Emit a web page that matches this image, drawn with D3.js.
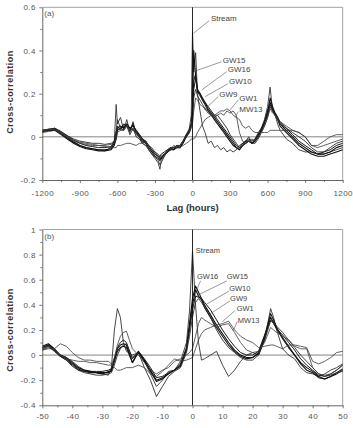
<!DOCTYPE html>
<html>
<head>
<meta charset="utf-8">
<script src="https://cdn.jsdelivr.net/npm/d3@7"></script>
<style>
  body { margin: 0; background: #fff; }
  svg { display: block; }
</style>
</head>
<body>
<div id="chart"></div>
<script>
// ---- panel (a): hourly lags ----
const lagA = [-1200,-1150,-1100,-1050,-1000,-950,-900,-850,-800,-750,-700,-650,
  -625,-610,-600,-575,-550,-525,-500,-475,-450,-425,-400,-375,-350,-325,-300,-275,-260,-250,-225,-200,-175,-150,-125,-100,-75,-50,-25,-10,
  0,10,25,40,60,80,100,125,150,175,200,225,250,275,300,325,350,375,400,425,450,475,500,525,550,575,600,620,640,660,680,700,
  750,800,850,900,950,1000,1050,1100,1150,1200];

const streamA = [0.025,0.03,0.04,0.02,0.0,-0.02,-0.04,-0.05,-0.055,-0.06,-0.065,-0.05,
  -0.02,0.15,0.06,0.09,0.03,0.08,0.02,0.07,0.01,0.0,-0.03,-0.02,-0.06,-0.08,-0.1,-0.12,-0.15,-0.11,-0.09,-0.06,-0.06,-0.04,-0.05,-0.04,-0.02,0.01,0.04,0.1,
  0.49,0.3,0.39,0.2,0.12,0.05,0.02,-0.03,-0.02,-0.05,-0.04,-0.06,-0.05,-0.07,-0.06,-0.07,-0.06,-0.04,-0.03,-0.02,0.0,-0.03,-0.01,0.02,0.04,0.08,0.14,0.23,0.12,0.1,0.06,0.03,
  -0.01,-0.03,-0.06,-0.07,-0.07,-0.08,-0.08,-0.07,-0.06,-0.05];
const gw15A = [0.03,0.035,0.035,0.015,-0.005,-0.025,-0.04,-0.05,-0.055,-0.06,-0.06,-0.055,
  -0.03,0.0,0.04,0.05,0.04,0.06,0.04,0.05,0.03,0.01,-0.01,-0.02,-0.04,-0.06,-0.08,-0.09,-0.1,-0.1,-0.08,-0.07,-0.05,-0.06,-0.04,-0.05,-0.02,0.0,0.03,0.06,
  0.15,0.4,0.28,0.22,0.2,0.18,0.16,0.13,0.11,0.09,0.07,0.05,0.03,0.01,-0.01,-0.03,-0.05,-0.06,-0.04,-0.03,-0.02,-0.03,-0.02,0.0,0.03,0.06,0.11,0.18,0.14,0.11,0.09,0.06,
  0.03,0.0,-0.03,-0.05,-0.07,-0.08,-0.08,-0.07,-0.05,-0.04];
const gw16A = [0.025,0.03,0.03,0.01,-0.01,-0.03,-0.045,-0.055,-0.06,-0.065,-0.065,-0.06,
  -0.04,-0.01,0.03,0.04,0.05,0.05,0.03,0.06,0.02,0.0,-0.02,-0.03,-0.05,-0.07,-0.09,-0.1,-0.11,-0.1,-0.08,-0.07,-0.06,-0.06,-0.05,-0.05,-0.03,0.0,0.02,0.05,
  0.1,0.26,0.29,0.21,0.2,0.17,0.15,0.12,0.1,0.08,0.06,0.04,0.02,0.0,-0.02,-0.04,-0.05,-0.06,-0.04,-0.02,-0.02,-0.03,-0.02,0.01,0.03,0.07,0.12,0.16,0.13,0.1,0.08,0.05,
  0.02,-0.01,-0.04,-0.06,-0.08,-0.09,-0.09,-0.08,-0.07,-0.06];
const gw10A = [0.03,0.035,0.04,0.025,0.005,-0.015,-0.03,-0.04,-0.045,-0.05,-0.05,-0.045,
  -0.02,0.02,0.05,0.03,0.06,0.05,0.04,0.03,0.02,0.01,-0.01,-0.03,-0.05,-0.06,-0.07,-0.09,-0.09,-0.08,-0.07,-0.06,-0.05,-0.05,-0.04,-0.04,-0.02,0.01,0.03,0.06,
  0.1,0.22,0.27,0.21,0.19,0.17,0.16,0.14,0.12,0.1,0.08,0.06,0.04,0.02,0.0,-0.02,-0.04,-0.05,-0.03,-0.02,-0.01,-0.02,-0.01,0.01,0.04,0.07,0.1,0.15,0.12,0.11,0.09,0.07,
  0.04,0.01,-0.02,-0.04,-0.06,-0.08,-0.07,-0.06,-0.04,-0.03];
const gw9A = [0.02,0.025,0.03,0.02,0.005,-0.01,-0.02,-0.025,-0.03,-0.03,-0.035,-0.03,
  -0.02,0.03,0.08,0.04,0.03,0.05,0.01,0.04,0.0,-0.01,-0.03,-0.04,-0.06,-0.08,-0.09,-0.11,-0.13,-0.12,-0.09,-0.07,-0.06,-0.05,-0.05,-0.04,-0.02,0.01,0.03,0.05,
  0.08,0.18,0.22,0.19,0.17,0.15,0.13,0.11,0.1,0.09,0.1,0.08,0.06,0.04,0.01,-0.01,-0.03,-0.05,-0.04,-0.03,-0.02,-0.03,-0.03,-0.01,0.02,0.05,0.09,0.14,0.12,0.1,0.08,0.06,
  0.04,0.02,0.0,-0.02,-0.05,-0.07,-0.07,-0.05,-0.03,-0.02];
const gw1A = [0.03,0.03,0.035,0.02,0.0,-0.02,-0.03,-0.035,-0.04,-0.04,-0.04,-0.035,
  -0.03,-0.01,0.02,0.03,0.03,0.05,0.03,0.04,0.02,0.0,-0.02,-0.03,-0.04,-0.05,-0.07,-0.08,-0.09,-0.09,-0.08,-0.06,-0.05,-0.05,-0.04,-0.04,-0.02,0.0,0.02,0.04,
  0.06,0.12,0.18,0.17,0.15,0.14,0.13,0.12,0.11,0.1,0.1,0.11,0.1,0.12,0.11,0.12,0.1,0.02,-0.02,-0.03,-0.02,-0.01,-0.02,0.0,0.02,0.05,0.09,0.13,0.11,0.1,0.08,0.07,
  0.05,0.03,0.02,0.0,-0.04,-0.05,-0.04,-0.03,-0.02,-0.01];
const mw13A = [0.03,0.035,0.035,0.02,0.0,-0.015,-0.025,-0.03,-0.035,-0.04,-0.045,-0.05,
  -0.05,-0.05,-0.04,-0.04,-0.035,-0.03,-0.03,-0.035,-0.04,-0.03,-0.03,-0.04,-0.05,-0.06,-0.08,-0.09,-0.1,-0.09,-0.08,-0.07,-0.06,-0.05,-0.05,-0.05,-0.04,-0.03,-0.02,-0.01,
  -0.01,-0.01,0.0,0.02,0.04,0.06,0.08,0.09,0.1,0.1,0.11,0.12,0.12,0.13,0.12,0.1,0.09,0.08,0.05,0.04,0.05,0.03,0.02,0.02,0.02,0.02,0.02,0.03,0.03,0.03,0.03,0.03,
  0.03,0.03,0.02,0.0,-0.04,-0.04,-0.02,0.0,0.01,0.01];

// ---- panel (b) ----
const lagB = [-50,-48,-46,-44,-42,-40,-38,-36,-34,-32,-30,-28,
  -27,-26,-25,-24,-23,-22,
  -20,-18,-16,-14,-12,-10,-8,-6,-4,-2,
  -1,0,1,2,3,
  4,6,8,10,12,14,16,18,20,22,24,26,
  27,
  28,30,32,34,36,38,40,42,44,46,48,50];

const streamB = [0.06,0.08,0.05,0.0,-0.02,-0.05,-0.09,-0.12,-0.13,-0.14,-0.15,-0.16,
  -0.1,0.2,0.37,0.3,0.1,0.03,
  0.0,0.02,-0.05,-0.15,-0.25,-0.2,-0.13,-0.12,-0.05,0.1,
  0.35,0.83,0.4,0.1,-0.04,
  -0.03,0.0,0.03,-0.08,-0.17,-0.12,-0.05,0.0,0.02,0.0,0.12,0.37,
  0.3,
  0.2,0.05,0.0,-0.03,-0.1,-0.14,-0.15,-0.17,-0.15,-0.12,-0.1,-0.07];
const gw15B = [0.07,0.09,0.05,0.0,-0.02,-0.06,-0.1,-0.12,-0.13,-0.14,-0.14,-0.14,
  -0.12,-0.03,0.05,0.08,0.09,0.08,
  -0.06,0.03,-0.04,-0.12,-0.2,-0.18,-0.15,-0.12,-0.08,0.06,
  0.25,0.45,0.55,0.5,0.45,
  0.4,0.32,0.24,0.17,0.1,0.04,0.0,-0.02,-0.02,0.02,0.15,0.33,
  0.28,
  0.22,0.14,0.07,0.0,-0.06,-0.1,-0.13,-0.17,-0.19,-0.17,-0.15,-0.12];
const gw16B = [0.06,0.08,0.04,-0.01,-0.03,-0.07,-0.11,-0.13,-0.14,-0.14,-0.15,-0.13,
  -0.13,-0.05,0.03,0.06,0.07,0.06,
  -0.06,0.02,-0.05,-0.13,-0.21,-0.19,-0.15,-0.12,-0.09,0.04,
  0.22,0.4,0.52,0.47,0.44,
  0.38,0.3,0.22,0.15,0.08,0.03,-0.01,-0.03,-0.02,0.01,0.13,0.3,
  0.26,
  0.21,0.13,0.06,0.0,-0.07,-0.12,-0.14,-0.18,-0.19,-0.17,-0.14,-0.11];
const gw10B = [0.05,0.07,0.03,-0.01,-0.04,-0.08,-0.12,-0.13,-0.13,-0.13,-0.13,-0.12,
  -0.11,-0.04,0.06,0.1,0.12,0.1,
  -0.03,0.03,-0.03,-0.1,-0.18,-0.17,-0.14,-0.12,-0.07,0.05,
  0.2,0.36,0.47,0.46,0.45,
  0.42,0.36,0.28,0.2,0.13,0.07,0.02,0.0,0.0,0.03,0.16,0.28,
  0.25,
  0.21,0.16,0.1,0.04,-0.03,-0.08,-0.12,-0.16,-0.17,-0.15,-0.12,-0.08];
const gw9B = [0.04,0.06,0.04,-0.01,-0.04,-0.09,-0.12,-0.14,-0.15,-0.16,-0.16,-0.15,
  -0.14,-0.08,0.0,0.05,0.08,0.09,
  -0.02,0.02,-0.1,-0.2,-0.33,-0.25,-0.17,-0.13,-0.1,0.02,
  0.15,0.3,0.42,0.45,0.42,
  0.38,0.3,0.2,0.12,0.06,0.02,-0.02,-0.04,-0.04,0.0,0.12,0.27,
  0.27,
  0.23,0.18,0.12,0.06,0.0,-0.05,-0.1,-0.15,-0.17,-0.16,-0.14,-0.13];
const gw1B = [0.05,0.07,0.04,0.0,-0.03,-0.04,-0.05,-0.05,-0.06,-0.06,-0.07,-0.08,
  -0.08,-0.02,0.08,0.15,0.18,0.19,
  0.05,0.0,-0.06,-0.12,-0.15,-0.12,-0.1,-0.05,-0.03,0.0,
  0.02,0.05,0.15,0.25,0.3,
  0.28,0.25,0.22,0.24,0.25,0.18,0.1,0.04,0.02,0.03,0.1,0.22,
  0.2,
  0.18,0.15,0.12,0.07,0.05,0.05,-0.1,-0.15,-0.16,-0.15,-0.12,-0.08];
const mw13B = [0.04,0.05,0.05,0.09,0.07,0.02,-0.02,-0.04,-0.04,-0.05,-0.05,-0.05,
  -0.07,-0.1,-0.12,-0.12,-0.11,-0.1,
  -0.1,-0.08,-0.1,-0.15,-0.17,-0.13,-0.08,-0.03,-0.05,-0.04,
  -0.03,-0.02,0.05,0.12,0.17,
  0.2,0.22,0.24,0.25,0.27,0.2,0.15,0.12,0.1,0.06,0.07,0.08,
  0.08,
  0.07,0.05,0.08,0.08,0.07,0.06,-0.05,-0.07,-0.05,-0.02,0.02,0.03];

const seriesNames = ["Stream", "GW15", "GW16", "GW10", "GW9", "GW1", "MW13"];

// ticks
const ticksXA = [-1200, -900, -600, -300, 0, 300, 600, 900, 1200];
const minorXA = [-1050, -750, -450, -150, 150, 450, 750, 1050];
const ticksYA = [-0.2, 0, 0.2, 0.4, 0.6];
const minorYA = [-0.1, 0.1, 0.3, 0.5];
const ticksXB = [-50, -40, -30, -20, -10, 0, 10, 20, 30, 40, 50];
const minorXB = [-45, -35, -25, -15, -5, 5, 15, 25, 35, 45];
const ticksYB = [-0.4, -0.2, 0, 0.2, 0.4, 0.6, 0.8, 1];
const minorYB = [-0.3, -0.1, 0.1, 0.3, 0.5, 0.7, 0.9];

// line look for each series
const lineStyle = {
  "Stream": { color: "#333", w: 0.9 },
  "GW15": { color: "#111", w: 1.1 },
  "GW16": { color: "#111", w: 1.1 },
  "GW10": { color: "#1a1a1a", w: 1.0 },
  "GW9":  { color: "#2a2a2a", w: 0.9 },
  "GW1":  { color: "#3a3a3a", w: 0.8 },
  "MW13": { color: "#3a3a3a", w: 0.8 }
};

const FONT = "Arial, 'Liberation Sans', sans-serif";
const left = 42.3, right = 342.7;

const svg = d3.select("#chart").append("svg")
  .attr("width", 353)
  .attr("height", 428)
  .style("background", "white");

function drawPanel(cfg) {
  const x = d3.scaleLinear().domain(cfg.xDomain).range([left, right]);
  const y = d3.scaleLinear().domain(cfg.yDomain).range([cfg.bottom, cfg.top]);
  const g = svg.append("g");

  // top / right frame
  g.append("path")
    .attr("d", `M${left},${cfg.top}H${right}V${cfg.bottom}`)
    .attr("fill", "none").attr("stroke", "#999").attr("stroke-width", 0.9);

  // zero line
  g.append("line")
    .attr("x1", left).attr("x2", right)
    .attr("y1", y(0)).attr("y2", y(0))
    .attr("stroke", "#777").attr("stroke-width", 0.9);

  const line = d3.line()
    .x((d, i) => x(cfg.lags[i]))
    .y(d => y(d));

  cfg.data.forEach((vals, i) => {
    const st = lineStyle[seriesNames[i]];
    g.append("path").datum(vals)
      .attr("d", line)
      .attr("fill", "none")
      .attr("stroke", st.color)
      .attr("stroke-width", st.w)
      .attr("stroke-linejoin", "round");
  });

  // lag 0 line
  g.append("line")
    .attr("x1", x(0)).attr("x2", x(0))
    .attr("y1", cfg.top).attr("y2", cfg.bottom)
    .attr("stroke", "#111").attr("stroke-width", 0.9);

  // axes
  const fmt = d => String(d);
  const xa = g.append("g").attr("transform", `translate(0,${cfg.bottom})`)
    .call(d3.axisBottom(x).tickValues(cfg.xTicks).tickSize(3).tickSizeOuter(0).tickPadding(cfg.xPad).tickFormat(fmt));
  const xm = g.append("g").attr("transform", `translate(0,${cfg.bottom})`)
    .call(d3.axisBottom(x).tickValues(cfg.xMinor).tickSize(2).tickFormat(""));
  xm.select(".domain").remove();
  const ya = g.append("g").attr("transform", `translate(${left},0)`)
    .call(d3.axisLeft(y).tickValues(cfg.yTicks).tickSize(3).tickSizeOuter(0).tickPadding(3.5).tickFormat(fmt));
  const ym = g.append("g").attr("transform", `translate(${left},0)`)
    .call(d3.axisLeft(y).tickValues(cfg.yMinor).tickSize(2).tickFormat(""));
  ym.select(".domain").remove();

  [xa, xm, ya, ym].forEach(a => {
    a.attr("font-family", FONT).attr("font-size", 8);
    a.select(".domain").attr("stroke", "#555").attr("stroke-width", 0.9);
    a.selectAll(".tick line").attr("stroke", "#555").attr("stroke-width", 0.8);
    a.selectAll(".tick text").attr("fill", "#555").style("letter-spacing", "0.4px");
  });

  // panel letter
  g.append("text")
    .attr("x", x(cfg.xDomain[0]) + 2).attr("y", cfg.top + 9)
    .attr("font-family", FONT).attr("font-size", 8).attr("fill", "#555")
    .text(cfg.letter);

  // y title
  g.append("text")
    .attr("transform", `translate(12.5,${cfg.yTitleY}) rotate(-90)`)
    .attr("text-anchor", "middle")
    .attr("font-family", FONT).attr("font-size", 9).attr("font-weight", "bold")
    .attr("fill", "#333").style("letter-spacing", "0.5px")
    .text("Cross-correlation");

  // x title
  g.append("text")
    .attr("x", (left + right) / 2).attr("y", cfg.xTitleY)
    .attr("text-anchor", "middle")
    .attr("font-family", FONT).attr("font-size", 9.5).attr("font-weight", "bold")
    .attr("fill", "#333")
    .text("Lag (hours)");

  // series labels with leader lines (positions in data units)
  cfg.notes.forEach(n => {
    if (n.from) {
      g.append("line")
        .attr("x1", x(n.from[0])).attr("y1", y(n.from[1]))
        .attr("x2", x(n.to[0])).attr("y2", y(n.to[1]))
        .attr("stroke", "#555").attr("stroke-width", 0.6);
    }
    g.append("text")
      .attr("x", x(n.at[0])).attr("y", y(n.at[1]))
      .attr("font-family", FONT).attr("font-size", cfg.noteSize).attr("fill", "#444")
      .text(n.name);
  });
}

drawPanel({
  letter: "(a)",
  lags: lagA,
  data: [streamA, gw15A, gw16A, gw10A, gw9A, gw1A, mw13A],
  xDomain: [-1200, 1200], yDomain: [-0.2, 0.6],
  top: 7.3, bottom: 180,
  xTicks: ticksXA, xMinor: minorXA, yTicks: ticksYA, yMinor: minorYA,
  xPad: 7, yTitleY: 92, xTitleY: 210.5, noteSize: 8,
  notes: [
    { name: "Stream", at: [147, 0.537], from: [134, 0.538], to: [8, 0.48] },
    { name: "GW15", at: [241, 0.342], from: [233, 0.348], to: [28, 0.306] },
    { name: "GW16", at: [281, 0.30], from: [273, 0.302], to: [73, 0.217] },
    { name: "GW10", at: [292, 0.243], from: [281, 0.245], to: [100, 0.186] },
    { name: "GW9", at: [214, 0.185], from: [206, 0.186], to: [92, 0.125] },
    { name: "GW1", at: [374, 0.166], from: [366, 0.171], to: [300, 0.125] },
    { name: "MW13", at: [374, 0.115], from: [366, 0.117], to: [340, 0.09] }
  ]
});

drawPanel({
  letter: "(b)",
  lags: lagB,
  data: [streamB, gw15B, gw16B, gw10B, gw9B, gw1B, mw13B],
  xDomain: [-50, 50], yDomain: [-0.4, 1],
  top: 229.5, bottom: 405.3,
  xTicks: ticksXB, xMinor: minorXB, yTicks: ticksYB, yMinor: minorYB,
  xPad: 5.5, yTitleY: 330, xTitleY: 434.5, noteSize: 7.5,
  notes: [
    { name: "Stream", at: [1.1, 0.813] },
    { name: "GW16", at: [1.5, 0.605], from: [2.7, 0.592], to: [1.2, 0.507] },
    { name: "GW15", at: [11.4, 0.605], from: [11.4, 0.59], to: [1.4, 0.473] },
    { name: "GW10", at: [12.2, 0.51], from: [12.2, 0.51], to: [4.7, 0.406] },
    { name: "GW9", at: [12.5, 0.43], from: [12.5, 0.432], to: [5.8, 0.327] },
    { name: "GW1", at: [14.7, 0.35], from: [14.1, 0.353], to: [9.8, 0.263] },
    { name: "MW13", at: [15.1, 0.255], from: [14.9, 0.268], to: [13.6, 0.194] }
  ]
});
</script>
</body>
</html>
